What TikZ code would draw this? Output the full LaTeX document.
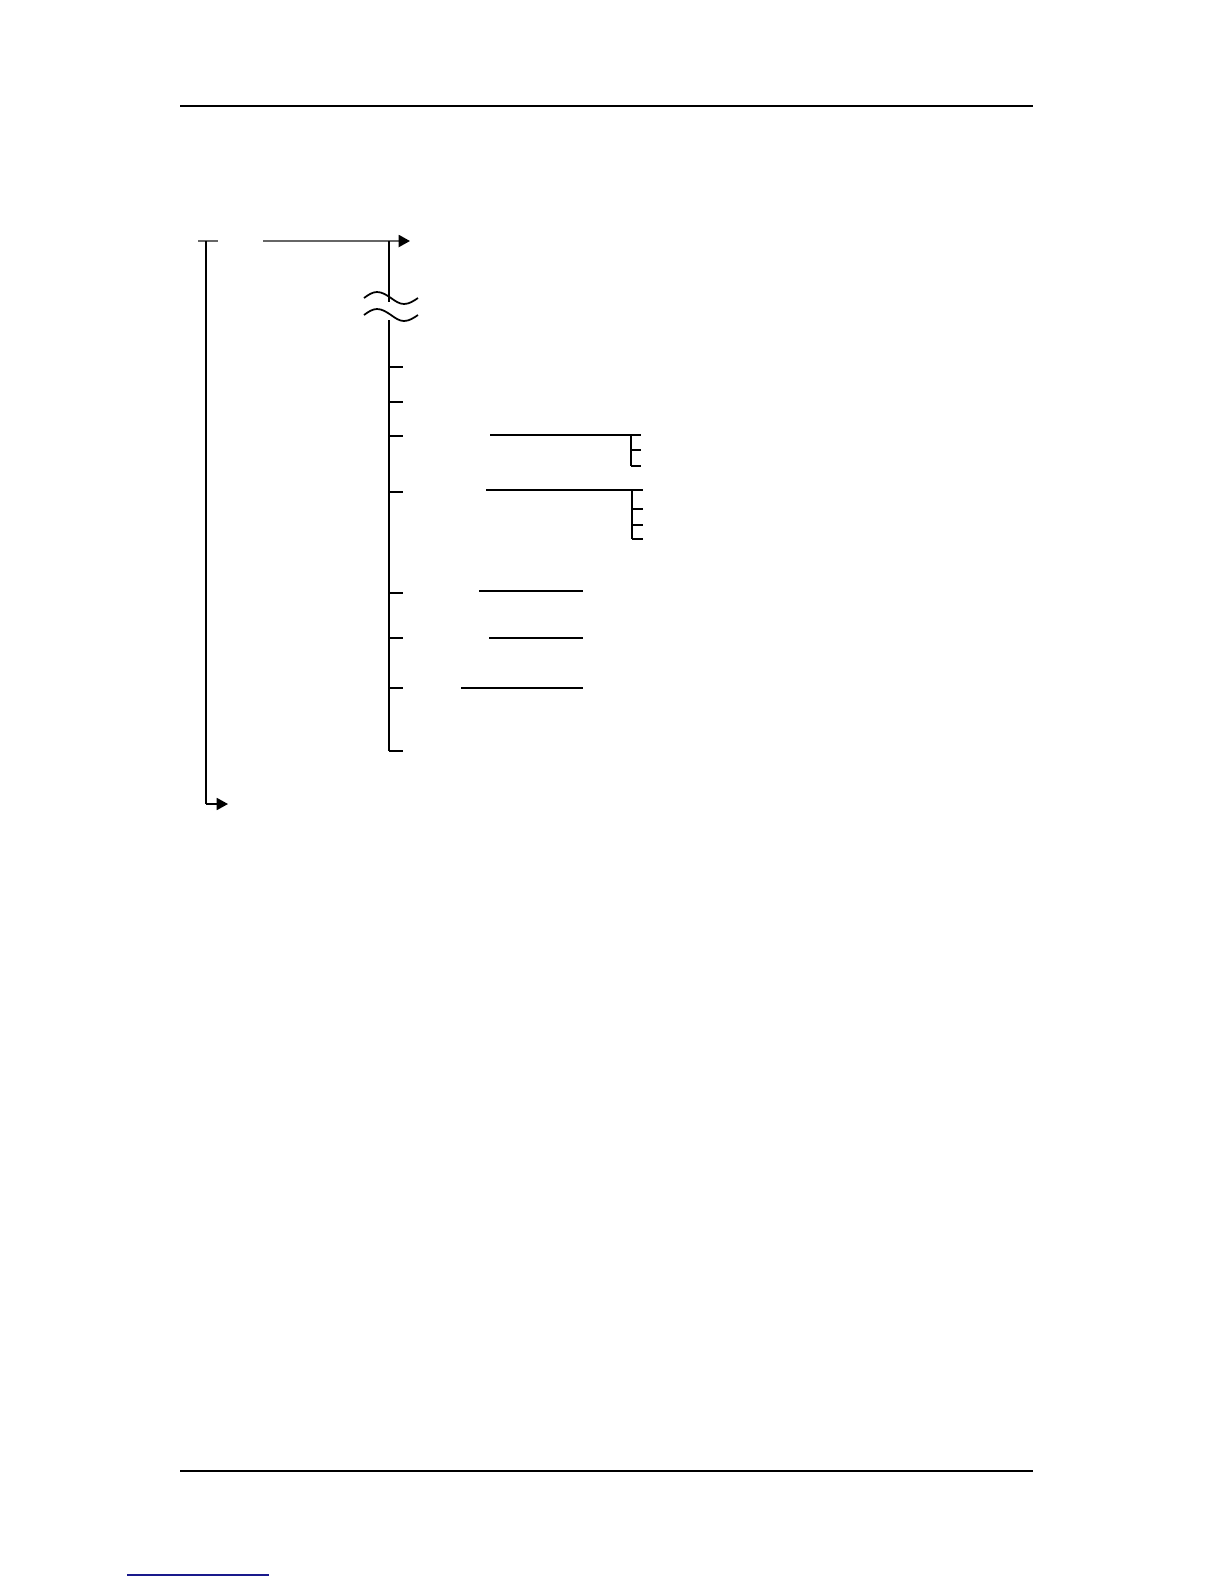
\documentclass[tikz,border=0pt]{standalone}
\usepackage{xcolor}
\usepackage{tikz}
\usetikzlibrary{arrows.meta,positioning}
\definecolor{linkblue}{RGB}{25,25,140}

\begin{document}
\begin{tikzpicture}[
    x=0.01cm, y=-0.01cm,
    rule/.style={line width=0.55pt, black},
    wire/.style={line width=0.5pt, black},
    feed/.style={line width=0.55pt, black!60},
    arrow/.style={-{Triangle[length=3.2pt,width=3.4pt,black]}}
]
    \useasboundingbox (0,0) rectangle (1224,1584);

    % page rules and link mark
    \draw[rule] (180,106) -- (1033,106);
    \draw[rule] (180,1471) -- (1033,1471);
    \draw[line width=0.6pt, linkblue] (127,1575) -- (269,1575);

    % outer loop
    \coordinate (start) at (206,241);
    \coordinate (loop) at (263,241);
    \coordinate (trunk) at (389,241);
    \coordinate (exit) at (410,241);
    \coordinate (back) at (206,804);
    \coordinate (return) at (228,804);

    \draw[feed] (198,241) -- (218,241);
    \draw[wire] (start) -- (back);
    \draw[wire, arrow] (back) -- (return);
    \draw[feed, arrow] (loop) -- (exit);

    % trunk with break
    \coordinate (breaktop) at (389,302);
    \coordinate (breakbot) at (389,320);
    \coordinate (trunkend) at (389,751);
    \draw[wire] (trunk) -- (breaktop);
    \draw[wire] (breakbot) -- (trunkend);
    \foreach \c in {298,315}
        \draw[wire] (364,\c) sin (377,\c-6) cos (391,\c) sin (404,\c+6) cos (418,\c);

    % branches off the trunk
    \foreach \y in {367,402,436,492,593,638,688,751}
        \draw[wire] (389,\y) -- ++(14,0);

    % sub branches
    \coordinate (subA) at (490,435);
    \coordinate (subAend) at (641,435);
    \coordinate (subB) at (486,490);
    \coordinate (subBend) at (643,490);
    \draw[wire] (subA) -- (subAend);
    \draw[wire] (subB) -- (subBend);
    \draw[wire] (631,435) -- (631,466);
    \foreach \y in {450,466}
        \draw[wire] (631,\y) -- (641,\y);
    \draw[wire] (632,490) -- (632,539);
    \foreach \y in {509,525,539}
        \draw[wire] (632,\y) -- (643,\y);

    % value lines
    \draw[wire] (479,591) -- (583,591);
    \draw[wire] (489,638) -- (583,638);
    \draw[wire] (461,688) -- (583,688);
\end{tikzpicture}
\end{document}
